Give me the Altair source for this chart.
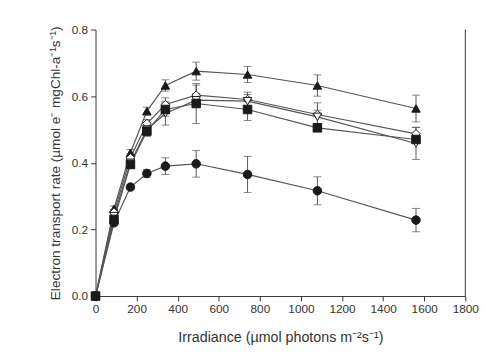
import altair as alt
import pandas as pd

irradiance = [0, 90, 170, 250, 340, 490, 740, 1080, 1560]

series_names = ["tri_up", "diamond", "tri_down", "square", "circle"]
tri_up = [0, 0.262, 0.43, 0.555, 0.632, 0.675, 0.665, 0.632, 0.563]
tri_up_err = [0, 0.008, 0.01, 0.012, 0.017, 0.027, 0.024, 0.032, 0.04]
diamond = [0, 0.252, 0.415, 0.518, 0.575, 0.603, 0.59, 0.545, 0.487]
diamond_err = [0, 0.008, 0.01, 0.012, 0.02, 0.03, 0.022, 0.035, 0.02]
tri_down = [0, 0.24, 0.40, 0.50, 0.548, 0.588, 0.585, 0.538, 0.458]
tri_down_err = [0, 0.01, 0.015, 0.02, 0.035, 0.02, 0.02, 0.02, 0.048]
square = [0, 0.23, 0.395, 0.495, 0.56, 0.578, 0.56, 0.505, 0.47]
square_err = [0, 0.008, 0.01, 0.015, 0.02, 0.06, 0.033, 0.01, 0.01]
circle = [0, 0.22, 0.327, 0.368, 0.39, 0.397, 0.365, 0.316, 0.228]
circle_err = [0, 0.008, 0.008, 0.012, 0.025, 0.04, 0.054, 0.042, 0.035]

shapes = ["triangle-up", "diamond", "triangle-down", "square", "circle"]
fills = ["#1a1a1a", "white", "white", "#1a1a1a", "#1a1a1a"]

vals = [tri_up, diamond, tri_down, square, circle]
errs = [tri_up_err, diamond_err, tri_down_err, square_err, circle_err]

rows = []
for name, v, e in zip(series_names, vals, errs):
    for x, y, err in zip(irradiance, v, e):
        rows.append({"series": name, "x": x, "y": y, "lo": y - err, "hi": y + err})
df = pd.DataFrame(rows)

xscale = alt.Scale(domain=[0, 1800], nice=False, zero=False)
yscale = alt.Scale(domain=[0, 0.8], nice=False)

xaxis = alt.Axis(
    title="Irradiance (µmol photons m⁻²s⁻¹)",
    values=list(range(0, 1801, 200)), format="d", labelFlush=False,
    grid=False, tickSize=5, labelPadding=3, titlePadding=16, titleFontSize=14.5,
)
yaxis = alt.Axis(
    title="Electron transport rate (µmol e⁻ mgChl-a⁻¹s⁻¹)",
    values=[0, 0.2, 0.4, 0.6, 0.8], format=".1f", labelFlush=False,
    grid=False, tickSize=5, labelPadding=3, titlePadding=9, titleFontSize=13.8,
)

base = alt.Chart(df)

lines = base.mark_line(color="#555555", strokeWidth=1.2).encode(
    x=alt.X("x:Q", scale=xscale, axis=xaxis),
    y=alt.Y("y:Q", scale=yscale, axis=yaxis),
    detail="series:N",
)

ebars = base.mark_rule(color="#555555", strokeWidth=1).encode(
    x="x:Q", y="lo:Q", y2="hi:Q"
)
caps_lo = base.mark_tick(color="#555555", orient="horizontal", size=8, thickness=1).encode(
    x="x:Q", y="lo:Q"
)
caps_hi = base.mark_tick(color="#555555", orient="horizontal", size=8, thickness=1).encode(
    x="x:Q", y="hi:Q"
)

points = base.mark_point(filled=False, size=75, strokeWidth=1, opacity=1).encode(
    x="x:Q",
    y="y:Q",
    shape=alt.Shape("series:N", scale=alt.Scale(domain=series_names, range=shapes), legend=None),
    fill=alt.Fill("series:N", scale=alt.Scale(domain=series_names, range=fills), legend=None),
    stroke=alt.value("#1a1a1a"),
)

frame = alt.Chart(pd.DataFrame({"x": [1800], "y0": [0], "y1": [0.8]})).mark_rule(
    color="#333333", strokeWidth=1
).encode(x="x:Q", y="y0:Q", y2="y1:Q")

chart = alt.layer(lines, ebars, caps_lo, caps_hi, points, frame).properties(
    width=376, height=271, padding={"left": 41, "top": 13, "right": 5, "bottom": 5}
).configure_view(stroke=None).configure_axis(
    labelFont="Liberation Sans", titleFont="Liberation Sans",
    labelFontSize=12, labelColor="#333333", titleColor="#333333",
    titleFontWeight="normal", domainColor="#333333", tickColor="#333333",
    domainWidth=1, tickWidth=1,
)

chart.save("out.html", embed_options={"renderer": "svg", "actions": False})
